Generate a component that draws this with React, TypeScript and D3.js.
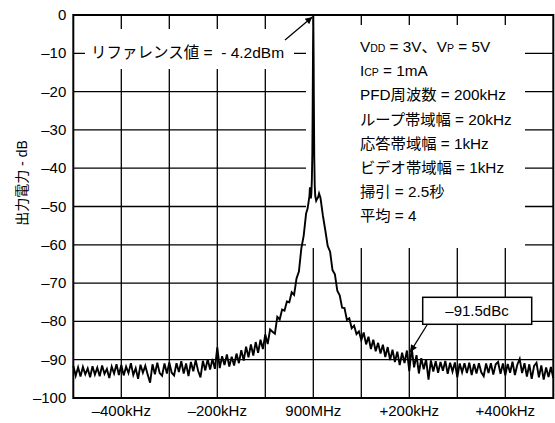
import React, { useRef, useEffect } from 'react';
import * as d3 from 'd3';

// axis ticks
const yTicks = [0, -10, -20, -30, -40, -50, -60, -70, -80, -90, -100];
const yTickLabels = ['0', '–10', '–20', '–30', '–40', '–50', '–60', '–70', '–80', '–90', '–100'];
const xGridKHz = [-400, -300, -200, -100, 0, 100, 200, 300, 400];
const xTicks = [-400, -200, 0, 200, 400];
const xTickLabels = ['–400kHz', '–200kHz', '900MHz', '+200kHz', '+400kHz'];

// spectrum trace (offset from carrier in kHz, level in dB)
const sweepStepKHz = 5;
const lowerStartKHz = -500;
const lowerSidebandDb = [
  -91.6, -94.2, -92.0, -94.4, -91.9, -93.8, -92.3, -94.6, -91.7, -93.9,
  -92.1, -94.3, -91.5, -93.7, -92.4, -94.8, -91.8, -93.6, -91.2, -94.0,
  -91.4, -94.1, -91.8, -93.5, -90.9, -94.0, -92.2, -95.0, -91.3, -93.4,
  -91.6, -93.9, -96.0, -91.2, -93.8, -90.8, -93.5, -94.2, -91.0, -93.6,
  -90.7, -93.4, -94.1, -90.9, -93.2, -90.4, -93.6, -91.0, -94.3, -90.6,
  -93.0, -90.1, -92.9, -94.6, -90.3, -92.8, -89.9, -92.6, -89.8, -92.4,
  -86.8, -92.2, -89.1, -91.4, -88.6, -91.8, -89.2, -91.5, -88.4, -90.9,
  -87.5, -90.2, -86.6, -89.4, -86.0, -88.9, -85.4, -88.2, -84.8, -87.2,
  -83.4, -85.9, -82.1, -82.7, -83.2, -78.8, -79.5, -76.9, -77.2, -74.8,
  -75.0, -72.4, -73.1, -68.8, -67.0, -61.0, -57.6, -51.8,
];
const carrierKHz = [-12, -10, -8, -7, -6, -5, -4, -3, -2, -1.2, -0.6, 0, 0.6, 1.2, 2, 3, 4, 6, 8, 10, 12];
const carrierDb = [-50.6, -49.0, -47.2, -45.0, -46.8, -47.9, -46.5, -43.0, -36.0, -22.0, -9.0, 0,
  -9.5, -23.0, -37.0, -44.5, -47.2, -48.5, -48.0, -47.6, -46.6];
const upperStartKHz = 15;
const upperSidebandDb = [
  -47.8, -52.4, -56.2, -60.3, -61.8, -66.6, -67.7, -72.0, -73.2, -76.4,
  -76.5, -79.6, -79.2, -81.8, -81.1, -83.3, -82.6, -84.9, -82.9, -86.0,
  -84.0, -87.2, -84.8, -87.8, -85.6, -88.4, -86.1, -89.3, -86.7, -90.1,
  -87.4, -90.6, -87.9, -91.4, -88.2, -90.9, -87.6, -93.0, -86.9, -92.0,
  -88.8, -93.6, -89.6, -92.5, -89.9, -95.2, -90.2, -93.1, -90.4, -93.4,
  -90.6, -92.9, -90.3, -93.7, -90.8, -93.1, -90.7, -94.6, -91.0, -93.3,
  -90.9, -93.5, -90.8, -94.0, -91.1, -93.6, -90.9, -93.3, -94.3, -91.0,
  -93.5, -90.9, -93.9, -91.2, -90.6, -93.7, -91.0, -94.1, -91.1, -93.4,
  -90.5, -94.0, -91.3, -89.8, -93.5, -90.9, -94.4, -91.2, -95.0, -91.6,
  -90.8, -94.6, -91.5, -95.2, -92.0, -94.5, -91.9, -94.8,
];

// annotations
const refLabel = 'リファレンス値 =  - 4.2dBm';
const spurLabel = '–91.5dBc';
const spurKHz = 200;
const spurDb = -88.5;
const settingsLines: [string, boolean][][] = [
  [['V', false], ['DD', true], [' = 3V、V', false], ['P', true], [' = 5V', false]],
  [['I', false], ['CP', true], [' = 1mA', false]],
  [['PFD周波数 = 200kHz', false]],
  [['ループ帯域幅 = 20kHz', false]],
  [['応答帯域幅 = 1kHz', false]],
  [['ビデオ帯域幅 = 1kHz', false]],
  [['掃引 = 2.5秒', false]],
  [['平均 = 4', false]],
];
const yTitle = '出力電力 - dB';

const FONT = "'Liberation Sans', Arial, 'Noto Sans CJK JP', sans-serif";

const SpectrumChart: React.FC = () => {
  const svgRef = useRef<SVGSVGElement>(null);
  const width = 555;
  const height = 423;

  useEffect(() => {
    if (!svgRef.current) return;
    const svg = d3.select(svgRef.current);
    svg.selectAll('*').remove();

    const left = 73.3, right = 553.3, top = 15, bottom = 398;
    const x = d3.scaleLinear().domain([-500, 500]).range([left, right]);
    const y = d3.scaleLinear().domain([-100, 0]).range([bottom, top]);

    const defs = svg.append('defs');
    defs.append('marker')
      .attr('id', 'arrowhead')
      .attr('viewBox', '0 0 10 10')
      .attr('refX', 10).attr('refY', 5)
      .attr('markerWidth', 9).attr('markerHeight', 7)
      .attr('markerUnits', 'userSpaceOnUse')
      .attr('orient', 'auto')
      .append('path')
      .attr('d', 'M0,0 L10,5 L0,10 Z')
      .attr('fill', '#000');

    const grid = svg.append('g');
    grid.selectAll('.hgrid')
      .data(yTicks.filter(d => d !== 0 && d !== -100))
      .enter().append('line')
      .attr('x1', left).attr('x2', right)
      .attr('y1', d => y(d)).attr('y2', d => y(d))
      .attr('stroke', '#000').attr('stroke-width', 1.3);
    grid.selectAll('.vgrid')
      .data(xGridKHz)
      .enter().append('line')
      .attr('x1', d => x(d)).attr('x2', d => x(d))
      .attr('y1', top).attr('y2', bottom)
      .attr('stroke', '#000').attr('stroke-width', 1.3);

    // white panels behind the annotations
    svg.append('rect').attr('x', 85).attr('y', 29).attr('width', 209).attr('height', 40).attr('fill', '#fff');
    svg.append('rect').attr('x', 306).attr('y', 25).attr('width', 219).attr('height', 223).attr('fill', '#fff');

    // trace
    const trace: { f: number; db: number }[] = [
      ...lowerSidebandDb.map((db, i) => ({ f: lowerStartKHz + i * sweepStepKHz, db })),
      ...carrierDb.map((db, i) => ({ f: carrierKHz[i], db })),
      ...upperSidebandDb.map((db, i) => ({ f: upperStartKHz + i * sweepStepKHz, db })),
    ];
    const line = d3.line<{ f: number; db: number }>()
      .x(d => x(d.f))
      .y(d => y(d.db));
    svg.append('path')
      .datum(trace)
      .attr('fill', 'none')
      .attr('stroke', '#000')
      .attr('stroke-width', 1.9)
      .attr('stroke-linejoin', 'miter')
      .attr('d', line);

    // frame
    svg.append('rect')
      .attr('x', left).attr('y', top)
      .attr('width', right - left).attr('height', bottom - top)
      .attr('fill', 'none').attr('stroke', '#000').attr('stroke-width', 2);

    // tick labels
    svg.selectAll('.ylab')
      .data(yTicks)
      .enter().append('text')
      .attr('x', left - 7)
      .attr('y', d => y(d) + 5)
      .attr('text-anchor', 'end')
      .style('font-family', FONT).style('font-size', '15px')
      .text((d, i) => yTickLabels[i]);
    svg.selectAll('.xlab')
      .data(xTicks)
      .enter().append('text')
      .attr('x', d => x(d))
      .attr('y', bottom + 18)
      .attr('text-anchor', 'middle')
      .style('font-family', FONT).style('font-size', '15px')
      .text((d, i) => xTickLabels[i]);

    svg.append('text')
      .attr('transform', 'translate(27,183) rotate(-90)')
      .attr('text-anchor', 'middle')
      .style('font-family', FONT).style('font-size', '14px')
      .text(yTitle);

    // reference level label + arrow
    svg.append('text')
      .attr('x', 91).attr('y', y(-10) + 5)
      .style('font-family', FONT).style('font-size', '15.5px')
      .style('white-space', 'pre')
      .text(refLabel);
    svg.append('line')
      .attr('x1', 285).attr('y1', 40)
      .attr('x2', x(0) - 1).attr('y2', y(0) + 2)
      .attr('stroke', '#000').attr('stroke-width', 1.3)
      .attr('marker-end', 'url(#arrowhead)');

    // settings block
    const block = svg.append('g');
    settingsLines.forEach((segs, i) => {
      const t = block.append('text')
        .attr('x', 360).attr('y', 52 + i * 24.2)
        .style('font-family', FONT).style('font-size', '15.3px')
        .style('white-space', 'pre');
      segs.forEach(([s, sub]) => {
        t.append('tspan')
          .style('font-size', sub ? '10.5px' : '15.3px')
          .text(s);
      });
    });

    // spur callout
    svg.append('rect')
      .attr('x', 422.7).attr('y', 297.3)
      .attr('width', 109).attr('height', 27)
      .attr('fill', '#fff').attr('stroke', '#000').attr('stroke-width', 1.5);
    svg.append('text')
      .attr('x', 477).attr('y', 316)
      .attr('text-anchor', 'middle')
      .style('font-family', FONT).style('font-size', '15px')
      .text(spurLabel);
    svg.append('line')
      .attr('x1', 427).attr('y1', 325)
      .attr('x2', x(spurKHz) + 1).attr('y2', y(spurDb) - 2)
      .attr('stroke', '#000').attr('stroke-width', 1.3)
      .attr('marker-end', 'url(#arrowhead)');
  }, []);

  return (
    <svg
      ref={svgRef}
      width={width}
      height={height}
      style={{ position: 'absolute', left: 0, top: 0, background: '#fff' }}
      viewBox={`0 0 ${width} ${height}`}
    />
  );
};

export default function App() {
  return <SpectrumChart />;
}
